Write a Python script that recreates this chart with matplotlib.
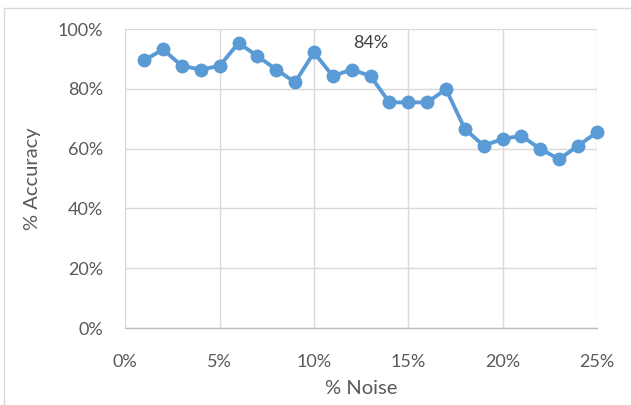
import matplotlib.pyplot as plt
from matplotlib.lines import Line2D
from matplotlib.ticker import FuncFormatter

# data
noise = [0.01, 0.02, 0.03, 0.04, 0.05, 0.06, 0.07, 0.08, 0.09, 0.10,
         0.11, 0.12, 0.13, 0.14, 0.15, 0.16, 0.17, 0.18, 0.19, 0.20,
         0.21, 0.22, 0.23, 0.24, 0.25]
accuracy = [0.896, 0.932, 0.877, 0.865, 0.877, 0.954, 0.910, 0.865, 0.822, 0.922,
            0.843, 0.865, 0.843, 0.755, 0.755, 0.755, 0.799, 0.666, 0.610, 0.633,
            0.643, 0.599, 0.565, 0.610, 0.655]
label_text = "84%"
label_pos = (0.13, 0.953)

plt.rcParams['font.family'] = ['Lato', 'DejaVu Sans']
txt = '#595959'
blue = '#5B9BD5'

fig = plt.figure(figsize=(6.31, 4.05), dpi=100)
ax = fig.add_axes([0.1986, 0.190, 0.7474, 0.738])

ax.plot(noise, accuracy, color=blue, lw=2.8, marker='o', ms=10,
        markeredgewidth=0, zorder=3, clip_on=False)
ax.text(label_pos[0], label_pos[1], label_text, ha='center', va='center',
        fontsize=13, color='#404040')

ax.set_xlim(0, 0.25)
ax.set_ylim(0, 1.0)
ax.set_xticks([0, 0.05, 0.10, 0.15, 0.20, 0.25])
ax.set_yticks([0, 0.2, 0.4, 0.6, 0.8, 1.0])
pct = FuncFormatter(lambda v, p: f"{v * 100:.0f}%")
ax.xaxis.set_major_formatter(pct)
ax.yaxis.set_major_formatter(pct)
ax.tick_params(length=0, labelsize=13, labelcolor=txt)
ax.tick_params(axis='x', pad=19)
ax.tick_params(axis='y', pad=16)

ax.grid(True, color='#d9d9d9', lw=1)
ax.set_axisbelow(True)
for s in ['top', 'right', 'left']:
    ax.spines[s].set_visible(False)
ax.spines['bottom'].set_color('#bfbfbf')
ax.spines['bottom'].set_linewidth(1)

ax.set_xlabel('% Noise', fontsize=14.5, color=txt, labelpad=7)
ax.set_ylabel('% Accuracy', fontsize=14.5, color=txt, labelpad=12)

# chart area border (top and left edges visible)
fig.add_artist(Line2D([4 / 631, 1], [1 - 8 / 405, 1 - 8 / 405],
                      transform=fig.transFigure, color='#d9d9d9', lw=1))
fig.add_artist(Line2D([4 / 631, 4 / 631], [0, 1 - 8 / 405],
                      transform=fig.transFigure, color='#d9d9d9', lw=1))

fig.savefig('out.png', dpi=100)
